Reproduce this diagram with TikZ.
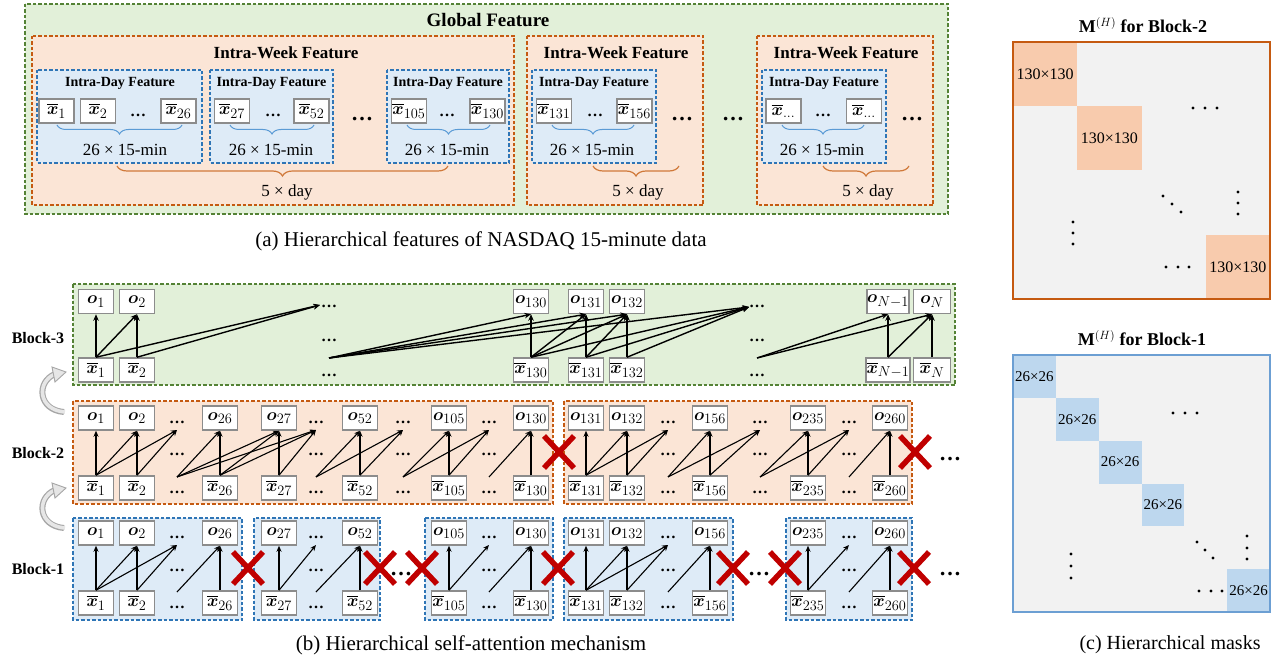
\documentclass[tikz,border=0pt]{standalone}
\usepackage{fontspec}
\setmainfont{Liberation Serif}
\usepackage{amsmath}
\usepackage{bm}
\usetikzlibrary{arrows.meta,decorations.pathreplacing}
\definecolor{gfill}{HTML}{E2F0D9}
\definecolor{gdraw}{HTML}{548235}
\definecolor{ofill}{HTML}{FBE5D6}
\definecolor{odraw}{HTML}{C55A11}
\definecolor{bfill}{HTML}{DEEBF7}
\definecolor{bdraw}{HTML}{2E75B6}
\definecolor{nbgray}{HTML}{8C8C8C}
\definecolor{xred}{HTML}{C00000}
\definecolor{mgray}{HTML}{F2F2F2}
\definecolor{mor}{HTML}{F8CBAD}
\definecolor{mblue}{HTML}{BDD7EE}
\definecolor{mblueb}{HTML}{6C9FD3}
\definecolor{bracebl}{HTML}{5B9BD5}
\definecolor{braceor}{HTML}{D0793A}
\definecolor{curvgray}{HTML}{A6A6A6}
\definecolor{curvin}{HTML}{E6E6E6}
\newcommand{\xb}{\overline{\bm{x}}}
\tikzset{pics/xmark/.style={code={\draw[xred,line width=5.5pt] (-15,-16) -- (15,16) (-15,16) -- (15,-16);}}}
\begin{document}
\begin{tikzpicture}[x=1pt,y=-1pt,
 gbox/.style={fill=gfill,draw=gdraw,line width=1.2pt,dash pattern=on 3.5pt off 2pt},
 obox/.style={fill=ofill,draw=odraw,line width=1.2pt,dash pattern=on 3.5pt off 2pt},
 bbox/.style={fill=bfill,draw=bdraw,line width=1.2pt,dash pattern=on 3.5pt off 2pt},
 nb/.style={draw=nbgray,line width=1.5pt,fill=white,minimum width=35pt,minimum height=24pt,inner sep=0.3pt,font=\fontsize{19}{19}\selectfont},
 arr/.style={-{Stealth[length=6pt,width=5pt]},line width=1.1pt},
 arrt/.style={-{Stealth[length=6.5pt,width=5.5pt]},line width=1.4pt},
 sdots/.style={anchor=base,inner sep=0pt,font=\fontsize{16}{16}\selectfont\bfseries},
 ldots/.style={anchor=base,inner sep=0pt,font=\fontsize{22}{22}\selectfont\bfseries},
 wkt/.style={font=\fontsize{17}{17}\selectfont\bfseries,inner sep=0pt},
 dyt/.style={font=\fontsize{14}{14}\selectfont\bfseries,inner sep=0pt},
 lbl/.style={font=\fontsize{17}{17}\selectfont,inner sep=0pt},
 blk/.style={font=\fontsize{16}{16}\selectfont\bfseries,inner sep=0pt},
 captxt/.style={font=\fontsize{21}{21}\selectfont,inner sep=0pt},
 bbrace/.style={decorate,decoration={brace,mirror,amplitude=9pt},draw=bracebl,line width=1pt},
 obrace/.style={decorate,decoration={brace,mirror,amplitude=10pt},draw=braceor,line width=1.2pt},
 curvo/.style={draw=curvgray,line width=6pt},
 curvi/.style={draw=curvin,line width=3.6pt},
 curvh/.style={fill=curvin,draw=curvgray,line width=0.9pt},
 mlab/.style={inner sep=0pt,font=\fontsize{16}{16}\selectfont},
 mtit/.style={inner sep=0pt,font=\fontsize{18}{18}\selectfont\bfseries}
]
\useasboundingbox (0,0) rectangle (1281,663);

% ================= (a) =================
\draw[gbox] (25,4) rectangle (948,214);
\node[font=\fontsize{19}{19}\selectfont\bfseries,inner sep=0pt] (tglob) at (488,20) {Global Feature};
\draw[obox] (32,36) rectangle (514,205);
\draw[obox] (527,36) rectangle (703,205);
\draw[obox] (757,36) rectangle (933,205);
\foreach \x/\n in {286/1,616/2,846/3} \node[wkt] (twk\n) at (\x,53) {Intra-Week Feature};
\foreach \a/\b/\n in {37/202/1,210/333/2,387/509/3,532/656/4,762/886/5} \draw[bbox] (\a,70) rectangle (\b,163);
\foreach \x/\n in {120/1,271.5/2,448/3,594/4,824/5} \node[dyt] (tdy\n) at (\x,83) {Intra-Day Feature};
\foreach \n/\x/\s in {1/56.5/1,2/98/2,26/178.5/26,27/232/27,52/311.5/52,105/409/105,130/487.5/130,131/554/131,156/634.5/156}
  \node[nb] (a\n) at (\x,111) {$\xb_{\s}$};
\node[nb] (aE1) at (783.5,111) {$\xb_{\dots}$};
\node[nb] (aE2) at (864,111) {$\xb_{\dots}$};
\foreach \x/\n in {138/1,273/2,447/3,595/4,823/5} \node[sdots] (ads\n) at (\x,117) {…};
\foreach \x/\n in {362/1,682/2,733/3,912/4} \node[ldots] (adl\n) at (\x,121) {…};
\foreach \a/\b in {57/182,230/314,407/490,552/634,782/864} \draw[bbrace] (\a,125) -- (\b,125);
\foreach \x/\n in {125/1,271/2,447/3,592/4,822/5} \node[lbl] (tmin\n) at (\x,150) {26 × 15-min};
\foreach \a/\b in {117/448,593/679,823/909} \draw[obrace] (\a,166) -- (\b,166);
\foreach \x/\n in {287/1,638/2,868/3} \node[lbl] (tday\n) at (\x,192) {5 × day};
\node[captxt] (capa) at (481,241) {(a) Hierarchical features of NASDAQ 15-minute data};

% ================= Block-3 =================
\draw[gbox] (73,284) rectangle (955,385);
\node[blk] (lb3) at (38,338) {Block-3};
\foreach \n/\x/\s in {1/96/1,2/137/2,130/531/130,131/586/131,132/627/132}{
  \node[nb] (b3o\n) at (\x,301.5) {$\bm{o}_{\s}$};
  \node[nb] (b3x\n) at (\x,370) {$\xb_{\s}$};
}
\node[nb,minimum width=41pt] (b3oM) at (888,301.5) {$\bm{o}_{N-1}$};
\node[nb,minimum width=41pt] (b3xM) at (888,370) {$\xb_{N-1}$};
\node[nb,minimum width=37pt] (b3oN) at (932,301.5) {$\bm{o}_{N}$};
\node[nb,minimum width=37pt] (b3xN) at (932,370) {$\xb_{N}$};
\foreach \d in {329,757}{
  \node[sdots] (b3da\d) at (\d,307) {…};
  \node[sdots] (b3db\d) at (\d,341) {…};
  \node[sdots] (b3dc\d) at (\d,376) {…};
}
\coordinate (b3tA) at (320,305);
\coordinate (b3tB) at (749,307);
\coordinate (b3fA) at (329,358);
\coordinate (b3fB) at (757,358);
\foreach \a/\b in {x1/o1,x1/o2,x2/o2,x130/o130,x130/o131,x130/o132,x131/o131,x131/o132,x132/o132,xM/oM,xM/oN,xN/oN}
  \draw[arrt] (b3\a.north) -- (b3\b.south);
\foreach \a in {x1,x2} \draw[arrt] (b3\a.north) -- (b3tA);
\foreach \a in {x130,x131,x132} \draw[arrt] (b3\a.north) -- (b3tB);
\foreach \b in {o130,o131,o132} \draw[arrt] (b3fA) -- (b3\b.south);
\draw[arrt] (b3fA) -- (b3tB);
\foreach \b in {oM,oN} \draw[arrt] (b3fB) -- (b3\b.south);

% ================= Block-2 =================
\draw[obox] (73,401) rectangle (553,504);
\draw[obox] (564,401) rectangle (912,504);
\node[blk] (lb2) at (38,453) {Block-2};
\foreach \n/\x in {1/96,2/137,26/220,27/279,52/360,105/449,130/531,131/586,132/627,156/710,235/808,260/890}{
  \node[nb] (b2o\n) at (\x,418) {$\bm{o}_{\n}$};
  \node[nb] (b2x\n) at (\x,488) {$\xb_{\n}$};
}
\foreach \d in {177,316,403,489,668,760,849}{
  \node[sdots] (b2da\d) at (\d,423) {…};
  \node[sdots] (b2db\d) at (\d,455) {…};
  \node[sdots] (b2dc\d) at (\d,493) {…};
  \coordinate (b2t\d) at (\d,430);
  \coordinate (b2f\d) at (\d,477);
}
\foreach \a/\b in {x1/o1,x1/o2,x2/o2,x26/o26,x26/o27,x27/o27,x52/o52,x105/o105,x130/o130,x131/o131,x131/o132,x132/o132,x156/o156,x235/o235,x260/o260}
  \draw[arr] (b2\a.north) -- (b2\b.south);
\foreach \a/\d in {x1/177,x2/177,x26/316,x27/316,x52/403,x105/489,x131/668,x132/668,x156/760,x235/849}
  \draw[arr] (b2\a.north) -- (b2t\d);
\foreach \d/\b in {177/o26,177/o27,316/o52,403/o105,489/o130,668/o156,760/o235,849/o260}
  \draw[arr] (b2f\d) -- (b2\b.south);
\foreach \d/\e in {177/316,316/403,403/489,668/760,760/849}
  \draw[arr] (b2f\d) -- (b2t\e);
\pic at (559,452) {xmark};
\pic at (915,452) {xmark};
\node[ldots] (b2end) at (950,460) {…};

% ================= Block-1 =================
\foreach \a/\b in {73/242,254/380,425/553,564/733,786/912} \draw[bbox] (\a,518) rectangle (\b,620);
\node[blk] (lb1) at (38,569) {Block-1};
\foreach \n/\x in {1/96,2/137,26/220,27/279,52/360,105/449,130/531,131/586,132/627,156/710,235/808,260/890}{
  \node[nb] (b1o\n) at (\x,533) {$\bm{o}_{\n}$};
  \node[nb] (b1x\n) at (\x,603) {$\xb_{\n}$};
}
\foreach \d in {177,316,489,668,849}{
  \node[sdots] (b1da\d) at (\d,538) {…};
  \node[sdots] (b1db\d) at (\d,571) {…};
  \node[sdots] (b1dc\d) at (\d,608) {…};
  \coordinate (b1t\d) at (\d,545);
  \coordinate (b1f\d) at (\d,592);
}
\foreach \a/\b in {x1/o1,x1/o2,x2/o2,x26/o26,x27/o27,x52/o52,x105/o105,x130/o130,x131/o131,x131/o132,x132/o132,x156/o156,x235/o235,x260/o260}
  \draw[arr] (b1\a.north) -- (b1\b.south);
\foreach \a/\d in {x1/177,x2/177,x27/316,x105/489,x131/668,x132/668,x235/849}
  \draw[arr] (b1\a.north) -- (b1t\d);
\foreach \d/\b in {177/o26,316/o52,489/o130,668/o156,849/o260}
  \draw[arr] (b1f\d) -- (b1\b.south);
\foreach \x in {248,380,422,558,733,785,914} \pic at (\x,568) {xmark};
\node[ldots] (b1m1) at (401,575) {…};
\node[ldots] (b1m2) at (759,575) {…};
\node[ldots] (b1end) at (950,575) {…};

% curved arrows (hollow grey)
\foreach \yo in {0,116}{
  \begin{scope}[yshift=-\yo pt]
  \draw[curvo] (64,412) .. controls (38,410) and (36,382) .. (55,374);
  \draw[curvi] (65,412) .. controls (38,410) and (36,382) .. (55,374);
  \draw[curvh] (52,367) -- (66,372) -- (55,382) -- cycle;
  \end{scope}
}

\node[captxt] (capb) at (471,645) {(b) Hierarchical self-attention mechanism};

% ================= (c) masks =================
\node[mtit] (mt2) at (1143,25) {$\mathbf{M}^{(H)}$ for Block-2};
\fill[mgray] (1013,42) rectangle (1270,299);
\foreach \k in {0,1,3}{
  \fill[mor] ({1013+64.25*\k},{42+64.25*\k}) rectangle +(64.25,64.25);
  \node[mlab] (m2l\k) at ({1013+64.25*(\k+0.5)},{42+64.25*(\k+0.5)}) {130×130};
}
\draw[odraw,line width=1.2pt] (1013,42) rectangle (1270,299);
\foreach \p in {(1193,108),(1205,108),(1217,108),(1163,196),(1172,204),(1181,212),(1238,192),(1238,203),(1238,214),(1073,222),(1073,233),(1073,244),(1166,267),(1178,267),(1189,267)}
  \fill \p circle (1.6);

\node[mtit] (mt1) at (1142,338) {$\mathbf{M}^{(H)}$ for Block-1};
\fill[mgray] (1013,355) rectangle (1270,612);
\foreach \k in {0,1,2,3,5}{
  \fill[mblue] ({1013+42.833*\k},{355+42.833*\k}) rectangle +(42.833,42.833);
  \node[mlab,font=\fontsize{15}{15}\selectfont] (m1l\k) at ({1013+42.833*(\k+0.5)},{355+42.833*(\k+0.5)}) {26×26};
}
\draw[mblueb,line width=1.2pt] (1013,355) rectangle (1270,612);
\foreach \p in {(1173,413),(1185,413),(1197,413),(1197,542),(1205,550),(1213,558),(1247,536),(1247,548),(1247,559),(1071,554),(1071,566),(1071,578),(1199,591),(1211,591),(1222,591)}
  \fill \p circle (1.6);

\node[captxt,font=\fontsize{20}{20}\selectfont] (capc) at (1170,645) {(c) Hierarchical masks};
\end{tikzpicture}
\end{document}
